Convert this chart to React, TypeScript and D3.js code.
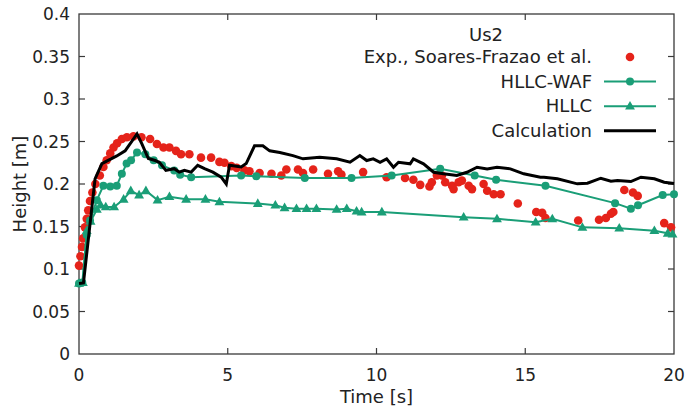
import React from "react";
import * as d3 from "d3";

// Experimental data (Soares-Frazao et al.)
const expT = [0.0, 0.05, 0.1, 0.14, 0.2, 0.26, 0.31, 0.37, 0.45, 0.55, 0.7, 0.82, 0.93, 1.05, 1.16, 1.28, 1.44, 1.61, 1.83, 2.1, 2.39, 2.62, 2.84, 3.04, 3.26, 3.43, 3.71, 4.1, 4.44, 4.72, 4.89, 5.12, 5.3, 5.56, 5.73, 6.07, 6.47, 6.8, 6.97, 7.36, 7.53, 7.87, 8.37, 8.71, 8.82, 9.55, 10.34, 10.96, 11.24, 11.47, 11.78, 11.86, 12.03, 12.2, 12.31, 12.54, 12.59, 12.76, 12.87, 13.1, 13.21, 13.6, 13.72, 13.94, 14.17, 14.75, 15.37, 15.57, 15.68, 16.78, 17.48, 17.71, 17.88, 17.96, 18.33, 18.62, 18.78, 19.67, 19.9];
const expH = [0.104, 0.115, 0.126, 0.136, 0.149, 0.159, 0.169, 0.18, 0.19, 0.2, 0.21, 0.22, 0.228, 0.236, 0.243, 0.248, 0.253, 0.255, 0.256, 0.255, 0.253, 0.247, 0.243, 0.243, 0.239, 0.235, 0.235, 0.231, 0.231, 0.226, 0.225, 0.221, 0.219, 0.216, 0.215, 0.213, 0.212, 0.21, 0.217, 0.217, 0.213, 0.217, 0.212, 0.215, 0.211, 0.214, 0.208, 0.207, 0.205, 0.199, 0.197, 0.202, 0.21, 0.21, 0.202, 0.198, 0.194, 0.202, 0.204, 0.198, 0.194, 0.2, 0.192, 0.188, 0.188, 0.177, 0.167, 0.166, 0.16, 0.157, 0.158, 0.16, 0.165, 0.167, 0.193, 0.19, 0.186, 0.154, 0.149];

// HLLC-WAF
const wafT = [0.0, 0.11, 0.26, 0.37, 0.6, 0.82, 1.05, 1.27, 1.44, 1.6, 1.75, 1.95, 2.23, 2.51, 2.79, 3.2, 3.4, 3.77, 5.45, 5.96, 7.59, 9.16, 10.51, 12.14, 13.3, 14.02, 15.68, 18.02, 18.55, 18.79, 19.62, 20.0];
const wafH = [0.083, 0.084, 0.14, 0.157, 0.181, 0.198, 0.197, 0.198, 0.212, 0.224, 0.228, 0.237, 0.235, 0.228, 0.222, 0.216, 0.211, 0.208, 0.21, 0.209, 0.207, 0.207, 0.21, 0.218, 0.21, 0.205, 0.198, 0.1775, 0.171, 0.175, 0.187, 0.188];

// HLLC
const hllcT = [0.0, 0.13, 0.26, 0.39, 0.6, 0.73, 0.9, 1.18, 1.5, 1.74, 2.02, 2.25, 2.64, 3.04, 3.6, 4.25, 4.72, 6.01, 6.6, 6.91, 7.31, 7.65, 7.98, 8.66, 9.0, 9.33, 9.5, 10.18, 12.93, 14.05, 15.35, 15.91, 16.92, 18.16, 19.34, 19.79, 19.95];
const hllcH = [0.083, 0.084, 0.145, 0.156, 0.17, 0.175, 0.173, 0.173, 0.182, 0.192, 0.187, 0.192, 0.181, 0.185, 0.182, 0.182, 0.179, 0.177, 0.175, 0.172, 0.171, 0.171, 0.171, 0.17, 0.171, 0.168, 0.167, 0.167, 0.161, 0.159, 0.155, 0.159, 0.149, 0.148, 0.145, 0.142, 0.141];

// Calculation
const calcT = [0.0, 0.15, 0.54, 0.77, 1.27, 1.55, 1.95, 2.11, 2.33, 2.56, 2.7, 2.92, 3.2, 3.37, 3.54, 3.77, 3.99, 4.22, 4.5, 4.78, 4.95, 5.06, 5.45, 5.62, 5.9, 6.18, 6.41, 6.75, 7.19, 7.53, 8.09, 8.66, 9.11, 9.44, 9.67, 9.89, 10.12, 10.34, 10.57, 10.74, 11.13, 11.24, 11.58, 11.92, 12.25, 12.7, 13.04, 13.38, 13.72, 14.05, 14.5, 14.95, 15.51, 15.63, 16.08, 16.75, 17.09, 17.54, 17.88, 18.1, 18.55, 18.89, 19.34, 19.67, 20.0];
const calcH = [0.083, 0.0836, 0.206, 0.224, 0.233, 0.239, 0.259, 0.2475, 0.23, 0.2276, 0.2256, 0.216, 0.218, 0.214, 0.216, 0.214, 0.222, 0.218, 0.214, 0.208, 0.2, 0.222, 0.22, 0.224, 0.245, 0.245, 0.239, 0.237, 0.2334, 0.2296, 0.2314, 0.2296, 0.2256, 0.2334, 0.2276, 0.2296, 0.2256, 0.2296, 0.2197, 0.2256, 0.2237, 0.2296, 0.2237, 0.2138, 0.212, 0.21, 0.2138, 0.2197, 0.2178, 0.2197, 0.2178, 0.212, 0.208, 0.208, 0.2061, 0.2002, 0.2009, 0.2068, 0.2033, 0.2041, 0.2029, 0.208, 0.2061, 0.2021, 0.2006];

const xTicks = [0, 5, 10, 15, 20];
const yTicks = [0, 0.05, 0.1, 0.15, 0.2, 0.25, 0.3, 0.35, 0.4];
const yTickLabels = ["0", "0.05", "0.1", "0.15", "0.2", "0.25", "0.3", "0.35", "0.4"];
const legendLabels = ["Exp., Soares-Frazao et al.", "HLLC-WAF", "HLLC", "Calculation"];

const RED = "#e5231a";
const GREEN = "#1a9e77";
const FONT = "'DejaVu Sans', Verdana, sans-serif";

export default function App() {
  const W = 685, H = 411;
  const L = 79, R = 674, T = 14, B = 354;
  const x = d3.scaleLinear().domain([0, 20]).range([L, R]);
  const y = d3.scaleLinear().domain([0, 0.4]).range([B, T]);
  const zip = (a: number[], b: number[]) => a.map((v, i) => [v, b[i]] as [number, number]);
  const exp = zip(expT, expH);
  const waf = zip(wafT, wafH);
  const hllc = zip(hllcT, hllcH);
  const calc = zip(calcT, calcH);
  const line = d3.line<[number, number]>().x(d => x(d[0])).y(d => y(d[1]));
  const tri = d3.symbol().type(d3.symbolTriangle).size(42)() as string;
  const tickLen = 6;
  const axisColor = "#3a3a3a";

  const legX = 592, legY0 = 57, legDy = 24.6;

  return (
    <svg width={W} height={H} style={{ position: "absolute", left: 0, top: 0, background: "#fff" }} fontFamily={FONT}>
      <rect x={0} y={0} width={W} height={H} fill="#fff" />
      {/* ticks */}
      {yTicks.map((t, i) => (
        <g key={"y" + i}>
          {i > 0 && i < yTicks.length - 1 && (
            <>
              <line x1={L} x2={L + tickLen} y1={y(t)} y2={y(t)} stroke={axisColor} strokeWidth={1.2} />
              <line x1={R} x2={R - tickLen} y1={y(t)} y2={y(t)} stroke={axisColor} strokeWidth={1.2} />
            </>
          )}
          <text x={L - 9} y={y(t) + 6} textAnchor="end" fontSize={17} fill="#222">{yTickLabels[i]}</text>
        </g>
      ))}
      {xTicks.map((t, i) => (
        <g key={"x" + i}>
          {i > 0 && i < xTicks.length - 1 && (
            <>
              <line x1={x(t)} x2={x(t)} y1={B} y2={B - tickLen} stroke={axisColor} strokeWidth={1.2} />
              <line x1={x(t)} x2={x(t)} y1={T} y2={T + tickLen} stroke={axisColor} strokeWidth={1.2} />
            </>
          )}
          <text x={x(t)} y={B + 27} textAnchor="middle" fontSize={17} fill="#222">{String(t)}</text>
        </g>
      ))}
      <rect x={L} y={T} width={R - L} height={B - T} fill="none" stroke={axisColor} strokeWidth={1.3} />
      <text x={(L + R) / 2} y={403} textAnchor="middle" fontSize={18} fill="#222">Time [s]</text>
      <text transform={`translate(26,${(T + B) / 2}) rotate(-90)`} textAnchor="middle" fontSize={18} fill="#222">Height [m]</text>

      {/* Exp */}
      {exp.map((d, i) => (
        <circle key={"e" + i} cx={x(d[0])} cy={y(d[1])} r={4.3} fill={RED} />
      ))}
      {/* HLLC-WAF */}
      <path d={line(waf) as string} fill="none" stroke={GREEN} strokeWidth={2} />
      {waf.map((d, i) => (
        <circle key={"w" + i} cx={x(d[0])} cy={y(d[1])} r={4} fill={GREEN} />
      ))}
      {/* HLLC */}
      <path d={line(hllc) as string} fill="none" stroke={GREEN} strokeWidth={2} />
      {hllc.map((d, i) => (
        <path key={"h" + i} d={tri} transform={`translate(${x(d[0])},${y(d[1]) + 0.5})`} fill={GREEN} />
      ))}
      {/* Calculation */}
      <path d={line(calc) as string} fill="none" stroke="#000" strokeWidth={3} strokeLinejoin="miter" />

      {/* Legend */}
      <text x={486} y={41} textAnchor="middle" fontSize={18} fill="#222">Us2</text>
      {legendLabels.map((lab, i) => (
        <text key={"l" + i} x={legX} y={legY0 + 6 + i * legDy} textAnchor="end" fontSize={18} fill="#222">{lab}</text>
      ))}
      <circle cx={630} cy={legY0} r={4.3} fill={RED} />
      <line x1={604} x2={656} y1={legY0 + legDy} y2={legY0 + legDy} stroke={GREEN} strokeWidth={2} />
      <circle cx={630} cy={legY0 + legDy} r={4} fill={GREEN} />
      <line x1={604} x2={656} y1={legY0 + 2 * legDy} y2={legY0 + 2 * legDy} stroke={GREEN} strokeWidth={2} />
      <path d={tri} transform={`translate(630,${legY0 + 2 * legDy + 0.5})`} fill={GREEN} />
      <line x1={604} x2={656} y1={legY0 + 3 * legDy} y2={legY0 + 3 * legDy} stroke="#000" strokeWidth={3} />
    </svg>
  );
}
